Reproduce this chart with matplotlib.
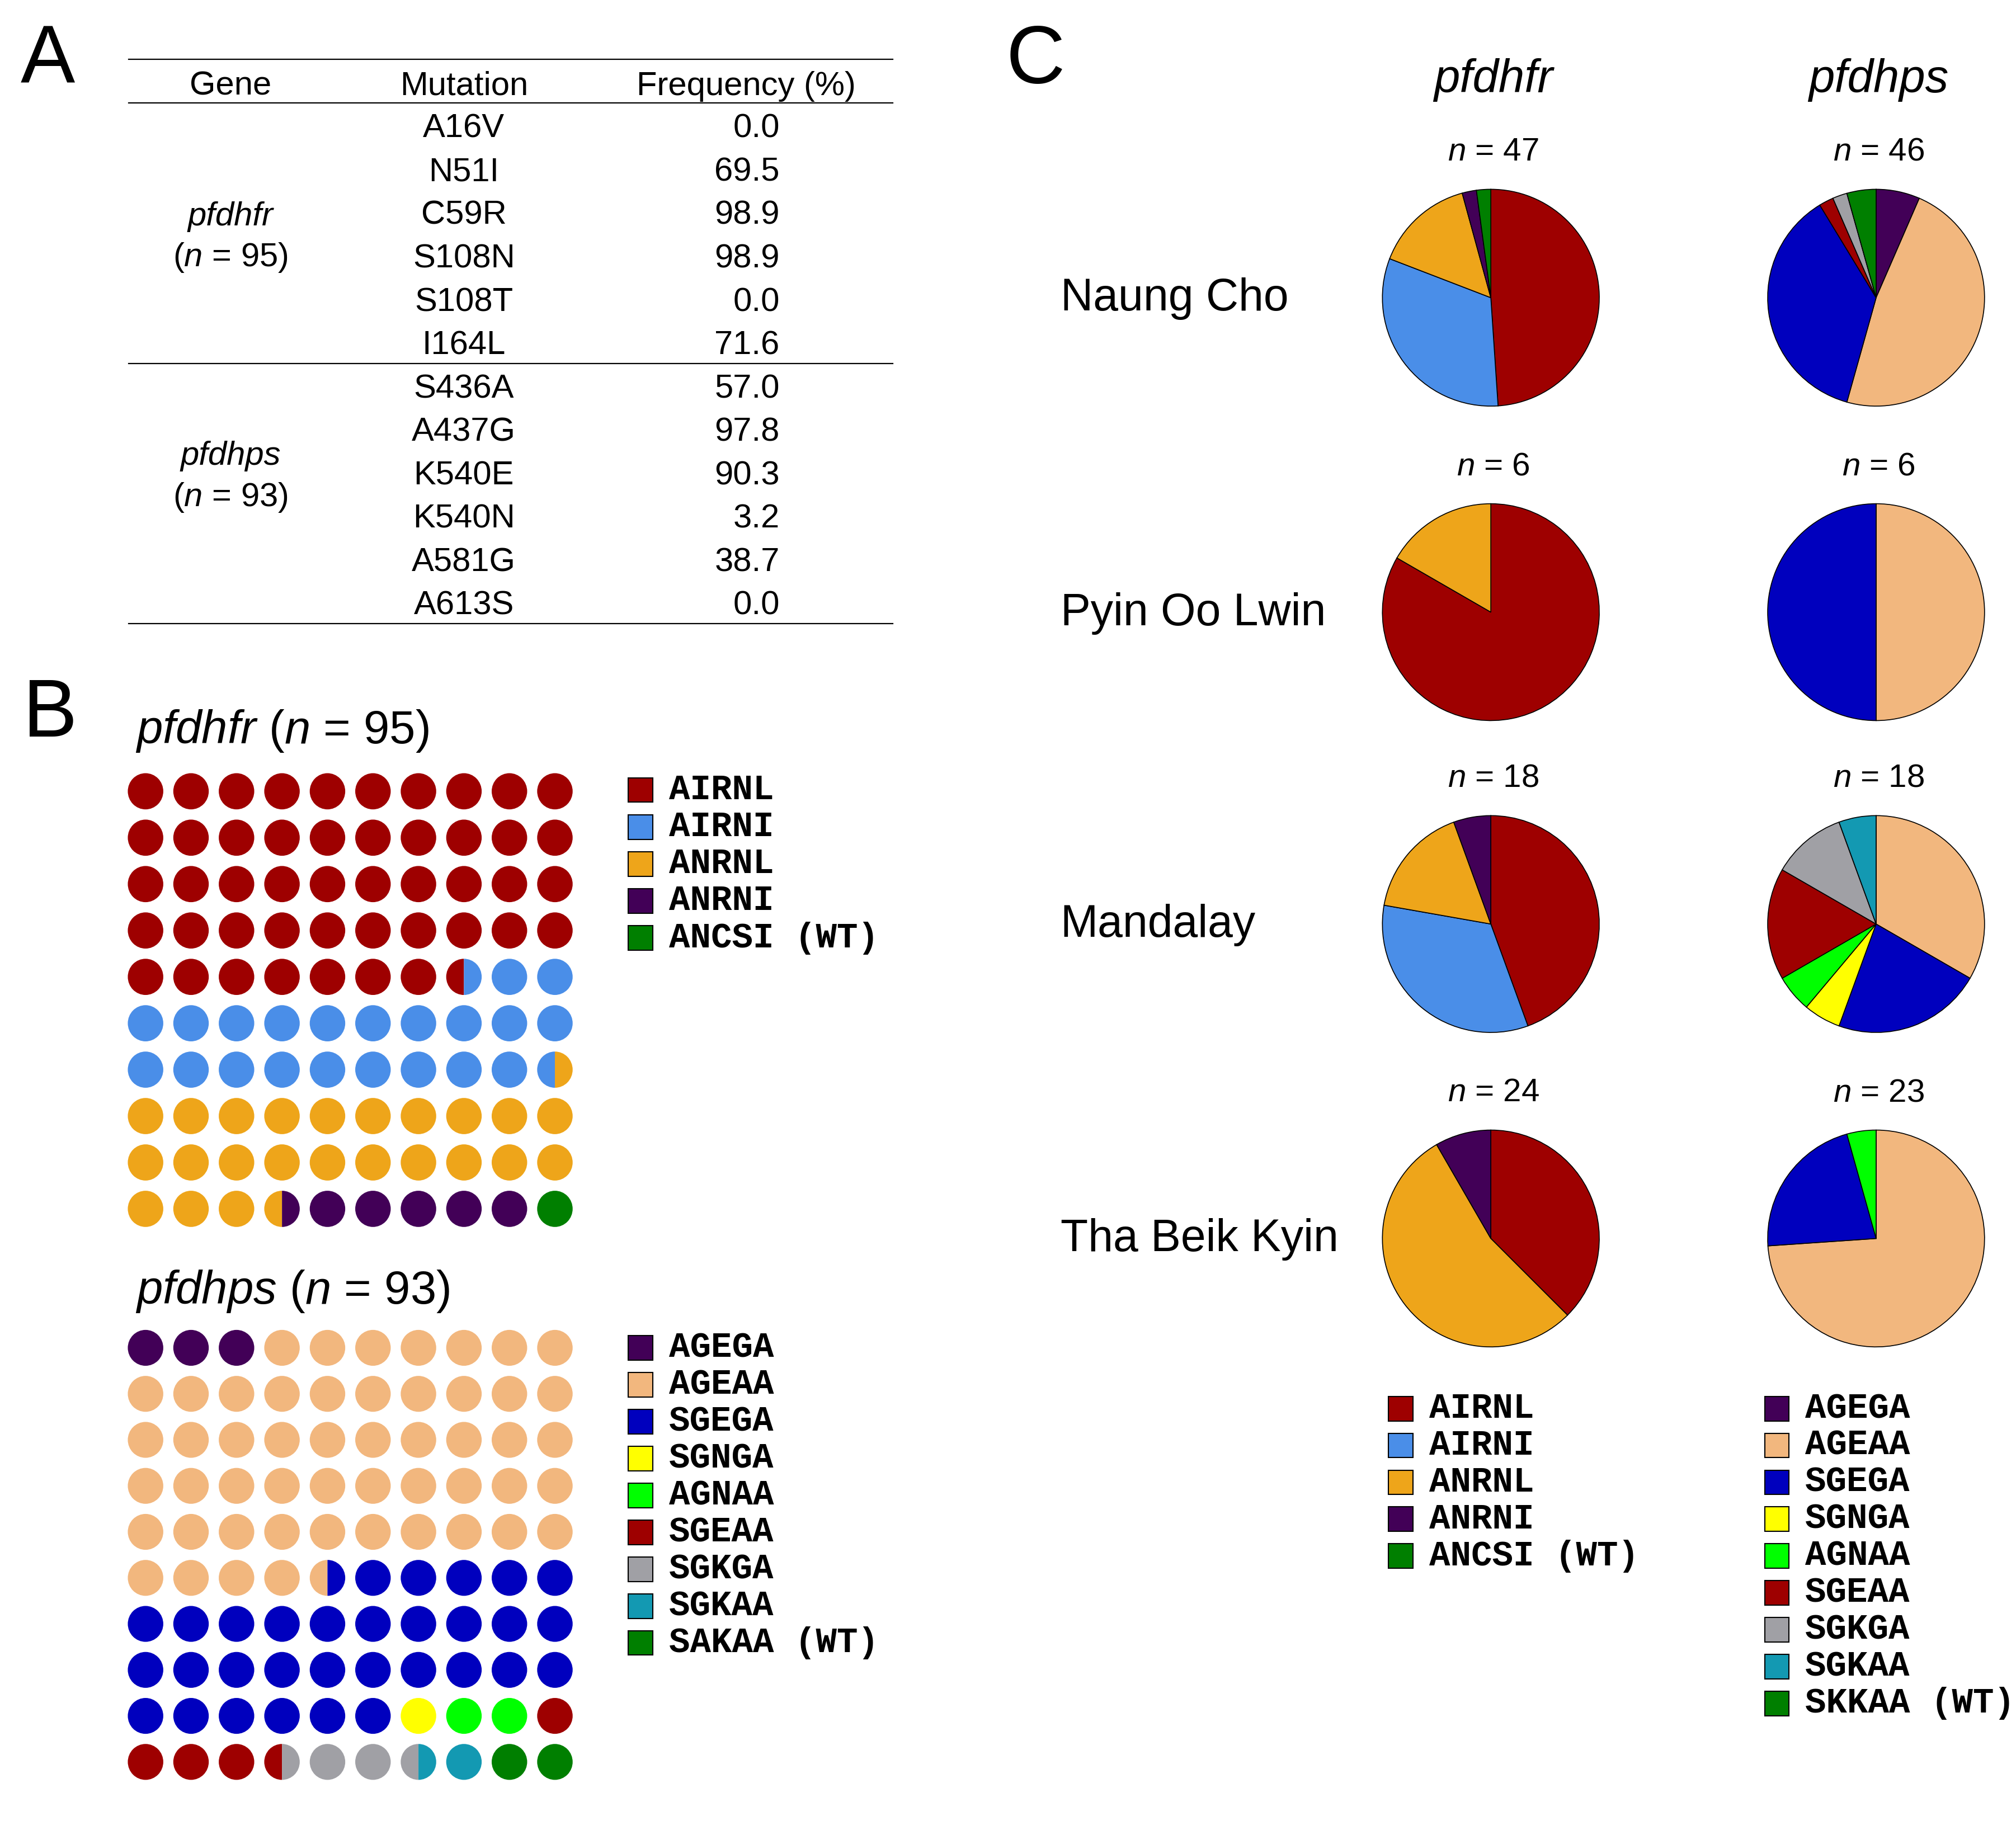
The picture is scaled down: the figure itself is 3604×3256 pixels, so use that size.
import numpy as np
import matplotlib
matplotlib.use('Agg')
import matplotlib.pyplot as plt
from matplotlib.patches import Wedge, Circle, Rectangle

plt.rcParams['font.family'] = ['Liberation Sans', 'DejaVu Sans']
plt.rcParams['mathtext.fontset'] = 'custom'
plt.rcParams['mathtext.rm'] = 'Liberation Sans'
plt.rcParams['mathtext.it'] = 'Liberation Sans:italic'

# Panel A: mutation frequencies
dhfr_mutations = ['A16V', 'N51I', 'C59R', 'S108N', 'S108T', 'I164L']
dhfr_freq = [0.0, 69.5, 98.9, 98.9, 0.0, 71.6]
dhps_mutations = ['S436A', 'A437G', 'K540E', 'K540N', 'A581G', 'A613S']
dhps_freq = [57.0, 97.8, 90.3, 3.2, 38.7, 0.0]
dhfr_n = 95
dhps_n = 93

# haplotypes and colours
dhfr_haps = ['AIRNL', 'AIRNI', 'ANRNL', 'ANRNI', 'ANCSI (WT)']
dhfr_colors = ['#9e0000', '#4a8ee8', '#eea51a', '#420057', '#007f00']
dhps_haps = ['AGEGA', 'AGEAA', 'SGEGA', 'SGNGA', 'AGNAA', 'SGEAA', 'SGKGA', 'SGKAA', 'SAKAA (WT)']
dhps_haps_c = ['AGEGA', 'AGEAA', 'SGEGA', 'SGNGA', 'AGNAA', 'SGEAA', 'SGKGA', 'SGKAA', 'SKKAA (WT)']
dhps_colors = ['#420057', '#f2b77e', '#0000be', '#ffff00', '#00ff00', '#9e0000', '#a0a0a5', '#1399b2', '#007f00']

# Panel B: waffle shares (cells out of 100)
dhfr_waffle = [47.5, 22, 24, 5.5, 1]
dhps_waffle = [3, 51.5, 31.5, 1, 2, 4.5, 3, 1.5, 2]

# Panel C: counts per site
sites = ['Naung Cho', 'Pyin Oo Lwin', 'Mandalay', 'Tha Beik Kyin']
dhfr_counts = [[23, 15, 7, 1, 1],
               [5, 0, 1, 0, 0],
               [8, 6, 3, 1, 0],
               [9, 0, 13, 2, 0]]
dhps_counts = [[3, 22, 17, 0, 0, 1, 1, 0, 2],
               [0, 3, 3, 0, 0, 0, 0, 0, 0],
               [0, 6, 4, 1, 1, 3, 2, 1, 0],
               [0, 17, 5, 0, 1, 0, 0, 0, 0]]

# layout grid (reference drawn at 1565 x 1413 units)
W, H = 1565.0, 1413.0


def fbox(x0, y0, x1, y1):
    return [x0 / W, 1 - y1 / H, (x1 - x0) / W, (y1 - y0) / H]


fig = plt.figure(figsize=(36.05, 32.56), dpi=100)
bg = fig.add_axes([0, 0, 1, 1])
bg.set_xlim(0, W)
bg.set_ylim(H, 0)
bg.axis('off')

TS = 43   # table font
BIG = 60
LET = 105
MONO = dict(family='Liberation Mono', weight='bold', fontsize=45)

# ---------------- Panel A ----------------
bg.text(16, 48, 'A', fontsize=LET, va='center', ha='left')
for y in [46, 80, 282, 484]:
    bg.plot([100, 693], [y, y], color='black', lw=1.6)
bg.text(179, 67, 'Gene', fontsize=TS, ha='center', va='center')
bg.text(360, 67, 'Mutation', fontsize=TS, ha='center', va='center')
bg.text(579, 67, 'Frequency (%)', fontsize=TS, ha='center', va='center')

row0, pitch = 100, 33.64
muts = dhfr_mutations + dhps_mutations
freqs = dhfr_freq + dhps_freq
for i, (m, f) in enumerate(zip(muts, freqs)):
    y = row0 + i * pitch
    bg.text(360, y, m, fontsize=TS, ha='center', va='center')
    bg.text(605, y, f'{f:.1f}', fontsize=TS, ha='right', va='center')

for gene, n, y in [('pfdhfr', dhfr_n, 168), ('pfdhps', dhps_n, 354)]:
    bg.text(179, y, gene, fontsize=TS, ha='center', va='center', style='italic')
    bg.text(179, y + 32, r'($\mathit{n}$ = %d)' % n, fontsize=TS, ha='center', va='center')

# ---------------- Panel B ----------------
bg.text(18, 555, 'B', fontsize=LET, va='center', ha='left')


def waffle(ax, shares, colors):
    edges = np.cumsum(shares)
    for i in range(100):
        r, c = divmod(i, 10)
        left = colors[min(np.searchsorted(edges, i + 0.25), len(colors) - 1)]
        right = colors[min(np.searchsorted(edges, i + 0.75), len(colors) - 1)]
        if left == right:
            ax.add_patch(Circle((c, r), 0.39, facecolor=left, lw=0))
        else:
            ax.add_patch(Wedge((c, r), 0.39, 90, 270, facecolor=left, lw=0))
            ax.add_patch(Wedge((c, r), 0.39, -90, 90, facecolor=right, lw=0))
    ax.set_xlim(-0.5, 9.5)
    ax.set_ylim(9.5, -0.5)
    ax.axis('off')


def legend_block(x, y0, step, labels, colors):
    for i, (lab, col) in enumerate(zip(labels, colors)):
        y = y0 + i * step
        bg.add_patch(Rectangle((x - 9.5, y - 9.5), 19, 19, facecolor=col,
                               edgecolor='black', lw=1.5))
        bg.text(x + 22, y, lab, va='center', ha='left', **MONO)


bg.text(105, 567, r'$\mathit{pfdhfr}$ ($\mathit{n}$ = %d)' % dhfr_n, fontsize=BIG, va='center')
ax1 = fig.add_axes(fbox(95.3, 596, 448.3, 956))
waffle(ax1, dhfr_waffle, dhfr_colors)
legend_block(497, 613, 28.7, dhfr_haps, dhfr_colors)

bg.text(105, 1002, r'$\mathit{pfdhps}$ ($\mathit{n}$ = %d)' % dhps_n, fontsize=BIG, va='center')
ax2 = fig.add_axes(fbox(95.3, 1028, 448.3, 1385))
waffle(ax2, dhps_waffle, dhps_colors)
legend_block(497, 1046, 28.6, dhps_haps, dhps_colors)

# ---------------- Panel C ----------------
bg.text(781, 48, 'C', fontsize=LET, va='center', ha='left')
col_x = [1157, 1456]
row_y = [231, 475, 717, 961]
R = 85
bg.text(1159, 62, 'pfdhfr', fontsize=BIG, style='italic', ha='center', va='center')
bg.text(1458, 62, 'pfdhps', fontsize=BIG, style='italic', ha='center', va='center')

for s, site in enumerate(sites):
    cy = row_y[s]
    bg.text(823, cy + 10, site, fontsize=58, ha='left', va='baseline')
    for cx, counts, colors in [(col_x[0], dhfr_counts[s], dhfr_colors),
                               (col_x[1], dhps_counts[s], dhps_colors)]:
        vals = [v for v in counts if v > 0]
        cols = [c for v, c in zip(counts, colors) if v > 0]
        ax = fig.add_axes(fbox(cx - R, cy - R, cx + R, cy + R))
        ax.pie(vals, colors=cols, startangle=90, counterclock=False,
               wedgeprops=dict(edgecolor='black', linewidth=1.2))
        ax.set_xlim(-1.01, 1.01)
        ax.set_ylim(-1.01, 1.01)
        bg.text(cx + 2, cy - 113, r'$\mathit{n}$ = %d' % sum(counts), fontsize=42,
                ha='center', va='center')

legend_block(1087, 1093, 28.6, dhfr_haps, dhfr_colors)
legend_block(1379, 1093, 28.6, dhps_haps_c, dhps_colors)

fig.savefig('out.png', dpi=100)
